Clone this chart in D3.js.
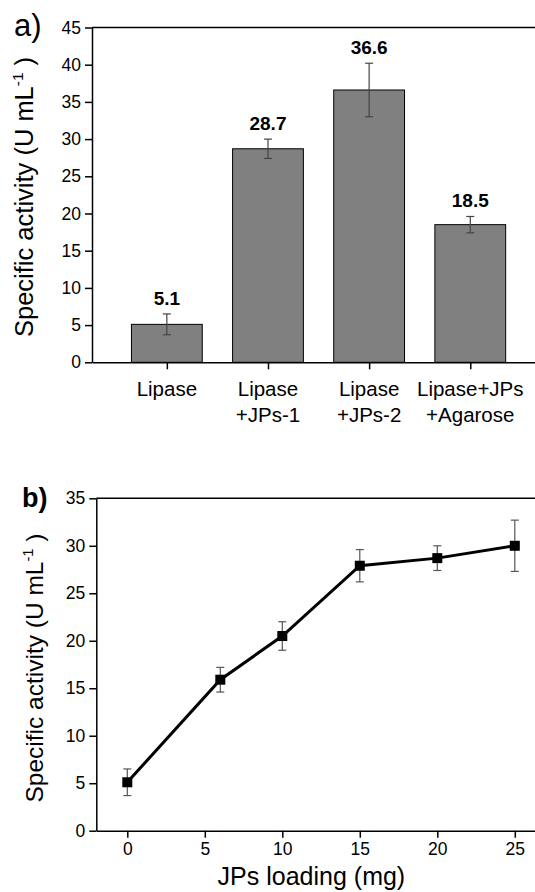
<!DOCTYPE html>
<html>
<head>
<meta charset="utf-8">
<script src="https://cdn.jsdelivr.net/npm/d3@7"></script>
<style>
  body { margin: 0; background: #fff; }
  text { font-family: "Liberation Sans", Arial, sans-serif; fill: #000; }
</style>
</head>
<body>
<div id="chart-container"></div>
<script>
// ----- DATA (panel a) -----
let barCategories = [["Lipase"], ["Lipase", "+JPs-1"], ["Lipase", "+JPs-2"], ["Lipase+JPs", "+Agarose"]];
let barValues = [5.1, 28.7, 36.6, 18.5];
let barErrors = [1.4, 1.3, 3.6, 1.1];
let barTicks = [0, 5, 10, 15, 20, 25, 30, 35, 40, 45];

// ----- DATA (panel b) -----
let loading = [0, 6, 10, 15, 20, 25];
let activity = [5.1, 15.9, 20.5, 27.9, 28.7, 30.0];
let activityErrors = [1.4, 1.3, 1.5, 1.7, 1.3, 2.7];
let lineYTicks = [0, 5, 10, 15, 20, 25, 30, 35];
let lineXTicks = [0, 5, 10, 15, 20, 25];

let width = 535,
    height = 892;

let svg = d3.select("#chart-container")
            .append("svg")
            .attr("width", width)
            .attr("height", height);

function yTitle(g, x, y, size) {
    let t = g.append("text")
        .attr("transform", `translate(${x},${y}) rotate(-90)`)
        .style("text-anchor", "middle")
        .style("font-size", size + "px");
    t.append("tspan").text("Specific activity (U mL");
    t.append("tspan").attr("dy", -size * 0.4).style("font-size", (size * 0.6) + "px").text("-1");
    t.append("tspan").attr("dy", size * 0.4).text(" )");
}

// =========== PANEL A ===========
let xA = d3.scaleLinear().domain([-0.74, 3.64]).range([92, 535]);
let yA = d3.scaleLinear().domain([0, 45]).range([362.3, 27.5]);
let gA = svg.append("g");

let barW = xA(0.35) - xA(-0.35);

gA.selectAll(".bar")
    .data(barValues)
    .enter()
    .append("rect")
    .attr("x", (d, i) => xA(i) - barW / 2)
    .attr("y", d => yA(d))
    .attr("width", barW)
    .attr("height", d => yA(0) - yA(d))
    .attr("fill", "#808080")
    .attr("stroke", "#000")
    .attr("stroke-width", 1);

// error bars
barValues.forEach((v, i) => {
    let e = barErrors[i], cx = xA(i);
    let eb = gA.append("g").attr("stroke", "#444").attr("stroke-width", 1.2);
    eb.append("line").attr("x1", cx).attr("x2", cx).attr("y1", yA(v - e)).attr("y2", yA(v + e));
    eb.append("line").attr("x1", cx - 4).attr("x2", cx + 4).attr("y1", yA(v - e)).attr("y2", yA(v - e));
    eb.append("line").attr("x1", cx - 4).attr("x2", cx + 4).attr("y1", yA(v + e)).attr("y2", yA(v + e));

    gA.append("text")
        .attr("x", cx)
        .attr("y", yA(v + e) - 9)
        .style("text-anchor", "middle")
        .style("font-size", "19px")
        .style("font-weight", "bold")
        .text(v.toFixed(1));
});

// axes
let axA = gA.append("g")
    .attr("transform", `translate(92,0)`)
    .call(d3.axisLeft(yA).tickValues(barTicks).tickSize(7).tickSizeOuter(0).tickPadding(4));
axA.selectAll("text").style("font-size", "17.5px").style("font-family", "Liberation Sans, Arial, sans-serif");

let axAx = gA.append("g")
    .attr("transform", `translate(0,${yA(0)})`)
    .call(d3.axisBottom(xA).tickValues([0, 1, 2, 3]).tickSize(7).tickSizeOuter(0).tickFormat(""));

[axA, axAx].forEach(a => a.selectAll("path, line").attr("stroke", "#000").attr("stroke-width", 1.5));

gA.append("line")
    .attr("x1", xA(-0.74)).attr("x2", xA(3.64))
    .attr("y1", yA(45)).attr("y2", yA(45))
    .attr("stroke", "#000").attr("stroke-width", 1.5);

// category labels
barCategories.forEach((lines, i) => {
    let t = gA.append("text")
        .attr("x", xA(i))
        .attr("y", 396)
        .style("text-anchor", "middle")
        .style("font-size", "20.5px");
    lines.forEach((s, j) => {
        t.append("tspan").attr("x", xA(i)).attr("dy", j ? 25.5 : 0).text(s);
    });
});

yTitle(gA, 33, 197, 25.5);

gA.append("text")
    .attr("x", 14).attr("y", 36)
    .style("font-size", "31px")
    .text("a)");

// =========== PANEL B ===========
let xB = d3.scaleLinear().domain([-2, 26.4]).range([96.3, 536.5]);
let yB = d3.scaleLinear().domain([0, 35]).range([830.7, 498.3]);
let gB = svg.append("g");

let axB = gB.append("g")
    .attr("transform", `translate(${xB(-2)},0)`)
    .call(d3.axisLeft(yB).tickValues(lineYTicks).tickSize(7).tickSizeOuter(0).tickPadding(4));

let axBx = gB.append("g")
    .attr("transform", `translate(0,${yB(0)})`)
    .call(d3.axisBottom(xB).tickValues(lineXTicks).tickSize(7).tickSizeOuter(0).tickPadding(5));

[axB, axBx].forEach(a => {
    a.selectAll("path, line").attr("stroke", "#000").attr("stroke-width", 1.5);
    a.selectAll("text").style("font-size", "17.5px").style("font-family", "Liberation Sans, Arial, sans-serif");
});

gB.append("line")
    .attr("x1", xB(-2)).attr("x2", xB(26.4))
    .attr("y1", yB(35)).attr("y2", yB(35))
    .attr("stroke", "#000").attr("stroke-width", 1.5);

// error bars
activity.forEach((v, i) => {
    let e = activityErrors[i], cx = xB(loading[i]);
    let eb = gB.append("g").attr("stroke", "#555").attr("stroke-width", 1.2);
    eb.append("line").attr("x1", cx).attr("x2", cx).attr("y1", yB(v - e)).attr("y2", yB(v + e));
    eb.append("line").attr("x1", cx - 4).attr("x2", cx + 4).attr("y1", yB(v - e)).attr("y2", yB(v - e));
    eb.append("line").attr("x1", cx - 4).attr("x2", cx + 4).attr("y1", yB(v + e)).attr("y2", yB(v + e));
});

// ----- LINE -----
let line = d3.line()
    .x((d, i) => xB(loading[i]))
    .y(d => yB(d));

gB.append("path")
    .datum(activity)
    .attr("d", line)
    .attr("stroke", "black")
    .attr("stroke-width", 3)
    .attr("fill", "none");

gB.selectAll(".pt")
    .data(activity)
    .enter()
    .append("rect")
    .attr("x", (d, i) => xB(loading[i]) - 5)
    .attr("y", d => yB(d) - 5)
    .attr("width", 10)
    .attr("height", 10)
    .attr("fill", "#000");

gB.append("text")
    .attr("x", (xB(-2) + xB(26.4)) / 2 - 5)
    .attr("y", 885)
    .style("text-anchor", "middle")
    .style("font-size", "25px")
    .text("JPs loading (mg)");

yTitle(gB, 43, 668, 24.5);

gB.append("text")
    .attr("x", 22).attr("y", 507)
    .style("font-size", "27px")
    .style("font-weight", "bold")
    .text("b)");
</script>
</body>
</html>
